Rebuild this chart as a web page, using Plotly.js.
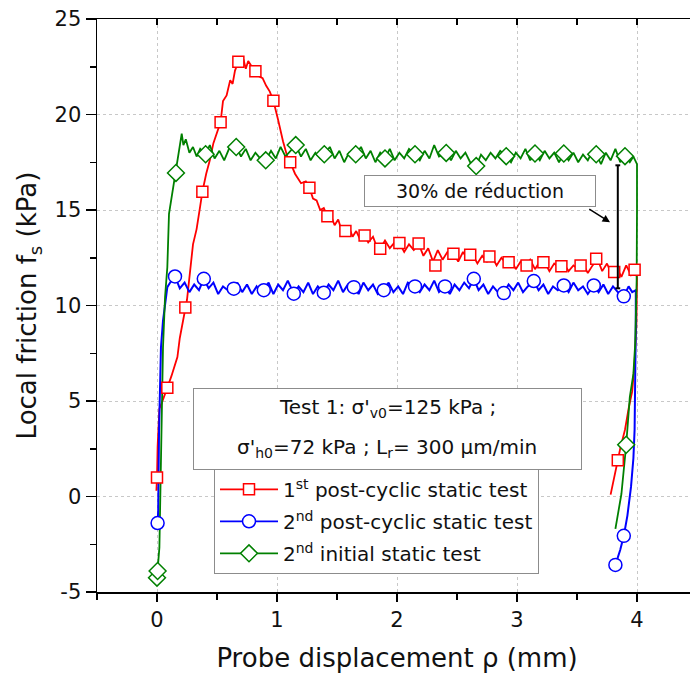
<!DOCTYPE html>
<html>
<head>
<meta charset="utf-8">
<script src="https://cdn.plot.ly/plotly-3.0.1.min.js"></script>
<style>html,body{margin:0;padding:0;overflow:hidden;background:#fff}</style>
</head>
<body>
<div id="chart"></div>
<script>
// ---------- data ----------
const seriesNames = [
  "1<sup>st</sup> post-cyclic static test",
  "2<sup>nd</sup> post-cyclic static test",
  "2<sup>nd</sup> initial static test"
];
const seriesColors = ["#ff0000", "#0000ff", "#008000"];
const seriesSymbols = ["square", "circle", "diamond"];

const xTickVals = [0, 1, 2, 3, 4];
const xTickText = ["0", "1", "2", "3", "4"];
const yTickVals = [-5, 0, 5, 10, 15, 20, 25];
const yTickText = ["-5", "0", "5", "10", "15", "20", "25"];

// 1st post-cyclic static test : line [x, y]
const redLine = [
  [-0.005,0.3],[0.0,1.0],[0.005,2.6],[0.01,3.6],[0.02,4.6],[0.04,4.9],[0.06,5.3],[0.086,5.7],
  [0.12,6.3],[0.15,6.9],[0.17,7.3],[0.19,8.3],[0.236,9.9],[0.25,10.3],[0.30,13.2],[0.33,14.0],
  [0.36,15.2],[0.378,15.95],[0.41,16.9],[0.44,17.6],[0.47,18.5],[0.50,19.0],[0.53,19.6],[0.55,20.7],
  [0.58,21.0],[0.61,21.8],[0.63,21.6],[0.65,22.3],[0.678,22.76],[0.70,22.5],[0.72,22.9],[0.74,22.4],
  [0.76,22.8],[0.78,22.6],[0.80,22.5],[0.82,22.27],[0.85,22.0],[0.88,21.9],[0.91,21.5],[0.94,21.2],
  [0.955,20.9],[0.97,20.72],[1.01,19.7],[1.05,18.6],[1.09,17.7],[1.11,17.5],[1.15,16.9],[1.20,16.4],
  [1.24,16.5],[1.27,16.17],[1.30,15.6],[1.33,15.5],[1.36,15.0],[1.39,15.1],[1.42,14.67],[1.45,14.7],
  [1.48,14.2],[1.51,14.5],[1.54,13.9],[1.57,13.9],[1.60,14.1],[1.63,13.6],[1.66,13.9],[1.69,13.5],
  [1.73,13.67],[1.76,13.3],[1.80,13.6],[1.83,13.1],[1.86,12.97],[1.90,13.4],[1.94,13.0],[1.98,13.3],
  [2.02,13.27],[2.06,12.8],[2.10,13.2],[2.14,12.9],[2.18,13.24],[2.22,12.6],[2.26,13.0],[2.30,12.3],
  [2.34,12.9],[2.38,12.4],[2.42,12.8],[2.47,12.71],[2.51,12.3],[2.55,12.8],[2.59,12.4],[2.63,12.66],
  [2.67,12.2],[2.71,12.6],[2.75,12.3],[2.79,12.57],[2.83,12.1],[2.87,12.5],[2.91,12.2],[2.95,12.4],
  [2.99,11.9],[3.03,12.3],[3.07,12.1],[3.11,12.4],[3.15,11.9],[3.19,12.3],[3.23,12.27],[3.27,11.8],
  [3.31,12.2],[3.35,12.0],[3.39,12.2],[3.43,11.8],[3.47,12.1],[3.51,11.9],[3.55,12.2],[3.59,11.7],
  [3.63,12.1],[3.67,12.45],[3.71,11.8],[3.75,12.2],[3.79,11.6],[3.83,12.0],[3.87,11.5],[3.91,12.1],
  [3.95,11.6],[3.98,11.87],[4.00,11.5],[3.995,9.0],[3.98,7.0],[3.96,5.5],[3.93,4.6],[3.90,3.5],
  [3.86,2.5],[3.84,1.9],[3.81,1.0],[3.78,0.1]
];
const redMarks = [
  [0.0,1.0],[0.086,5.7],[0.236,9.9],[0.378,15.95],[0.53,19.6],[0.678,22.76],[0.82,22.27],[0.97,20.72],
  [1.11,17.5],[1.27,16.17],[1.42,14.67],[1.57,13.9],[1.73,13.67],[1.86,12.97],[2.02,13.27],[2.18,13.24],
  [2.32,12.1],[2.47,12.71],[2.61,12.66],[2.77,12.57],[2.93,12.27],[3.08,12.1],[3.22,12.27],[3.37,12.05],
  [3.53,12.1],[3.66,12.45],[3.81,11.75],[3.98,11.87],[3.84,1.9]
];

// 2nd post-cyclic static test
const blueLine = [
  [0.005,-1.39],[0.01,-0.75],[0.017,3.45],[0.025,6.07],[0.033,7.8],[0.05,9.2],[0.075,10.44],[0.086,10.96],
  [0.11,11.2],[0.15,11.52],[0.19,10.9],[0.23,11.2],[0.27,10.7],[0.31,11.1],[0.35,10.8],[0.39,11.4],
  [0.43,10.9],[0.47,11.2],[0.51,10.6],[0.55,11.0],[0.59,10.8],[0.64,10.88],[0.67,11.2],[0.71,10.7],
  [0.75,11.1],[0.79,10.6],[0.83,11.0],[0.86,10.7],[0.89,10.8],[0.93,11.2],[0.97,10.6],[1.01,11.1],
  [1.05,10.8],[1.09,11.3],[1.14,10.62],[1.18,11.0],[1.22,10.7],[1.26,11.2],[1.30,10.6],[1.34,11.0],
  [1.39,10.67],[1.43,11.1],[1.47,10.8],[1.51,11.3],[1.55,10.7],[1.59,11.1],[1.64,10.96],[1.68,10.6],
  [1.72,11.2],[1.76,10.8],[1.80,11.1],[1.84,10.6],[1.89,10.8],[1.93,11.2],[1.97,10.7],[2.01,11.0],
  [2.05,10.6],[2.09,11.2],[2.15,11.0],[2.19,10.7],[2.23,11.1],[2.27,10.8],[2.31,11.3],[2.35,10.7],
  [2.40,11.0],[2.44,10.6],[2.48,11.1],[2.52,10.8],[2.56,11.2],[2.60,10.9],[2.64,11.4],[2.68,10.8],
  [2.72,11.1],[2.76,10.6],[2.80,11.0],[2.84,10.7],[2.89,10.65],[2.93,11.1],[2.97,10.8],[3.01,11.2],
  [3.05,10.7],[3.09,11.0],[3.14,11.28],[3.18,10.8],[3.22,11.1],[3.26,10.6],[3.30,11.0],[3.34,10.8],
  [3.39,11.05],[3.43,10.7],[3.47,11.2],[3.51,10.8],[3.55,11.0],[3.59,10.6],[3.64,11.05],[3.68,10.7],
  [3.72,11.1],[3.76,10.6],[3.80,11.0],[3.84,10.7],[3.89,10.48],[3.93,11.0],[3.96,10.7],[3.99,10.8],
  [3.99,9.0],[3.985,6.0],[3.98,3.5],[3.97,2.0],[3.95,0.5],[3.92,-1.0],[3.89,-2.06],[3.86,-2.8],[3.82,-3.58]
];
const blueMarks = [
  [0.005,-1.39],[0.15,11.52],[0.39,11.4],[0.64,10.88],[0.89,10.8],[1.14,10.62],[1.39,10.67],[1.64,10.96],
  [1.89,10.8],[2.15,11.0],[2.40,11.0],[2.64,11.4],[2.89,10.65],[3.14,11.28],[3.39,11.05],[3.64,11.05],
  [3.89,10.48],[3.89,-2.06],[3.82,-3.58]
];

// 2nd initial static test
const greenLine = [
  [0.0,-4.25],[0.005,-3.9],[0.02,-2.67],[0.03,0.83],[0.04,4.33],[0.05,7.8],[0.067,10.44],[0.086,12.0],
  [0.10,14.8],[0.13,16.0],[0.158,16.94],[0.18,17.8],[0.206,19.0],[0.22,18.4],[0.24,18.7],[0.27,18.0],
  [0.30,18.3],[0.33,17.8],[0.36,18.2],[0.405,17.92],[0.44,18.4],[0.48,17.7],[0.52,18.1],[0.56,17.6],
  [0.60,18.2],[0.66,18.3],[0.70,17.8],[0.74,18.2],[0.78,17.6],[0.82,18.0],[0.86,17.7],[0.906,17.6],
  [0.95,18.1],[0.99,17.7],[1.03,18.3],[1.07,17.8],[1.11,18.1],[1.156,18.4],[1.20,17.8],[1.24,18.2],
  [1.28,17.6],[1.32,18.0],[1.36,17.7],[1.394,17.92],[1.44,18.3],[1.48,17.7],[1.52,18.1],[1.56,17.5],
  [1.60,18.0],[1.656,17.92],[1.70,18.3],[1.74,17.7],[1.78,18.1],[1.82,17.5],[1.86,18.0],[1.90,17.7],
  [1.94,18.2],[1.98,17.6],[2.02,18.0],[2.06,17.7],[2.10,18.2],[2.15,17.92],[2.19,17.6],[2.23,18.1],
  [2.27,17.7],[2.31,18.4],[2.35,17.8],[2.41,17.99],[2.45,17.6],[2.49,18.1],[2.53,17.7],[2.57,18.0],
  [2.61,17.5],[2.66,17.3],[2.70,17.9],[2.74,17.6],[2.78,18.0],[2.82,17.7],[2.86,18.1],[2.91,17.82],
  [2.95,17.5],[2.99,18.0],[3.03,17.7],[3.07,18.2],[3.11,17.6],[3.15,17.96],[3.19,17.6],[3.23,18.1],
  [3.27,17.7],[3.31,18.0],[3.35,17.5],[3.39,17.96],[3.43,17.6],[3.47,18.0],[3.51,17.5],[3.55,17.9],
  [3.59,17.6],[3.63,18.1],[3.66,17.92],[3.70,17.4],[3.74,18.0],[3.78,17.6],[3.82,18.2],[3.86,17.5],
  [3.90,17.82],[3.94,17.5],[3.97,17.8],[4.00,17.4],[4.00,15.0],[3.997,11.3],[3.985,8.0],[3.97,6.42],
  [3.94,5.2],[3.91,2.71],[3.87,0.13],[3.82,-1.7]
];
const greenMarks = [
  [0.0,-4.25],[0.005,-3.9],[0.158,16.94],[0.405,17.92],[0.66,18.3],[0.906,17.6],[1.156,18.4],[1.394,17.92],
  [1.656,17.92],[1.90,17.7],[2.15,17.92],[2.41,17.99],[2.66,17.3],[2.91,17.82],[3.15,17.96],[3.39,17.96],
  [3.66,17.92],[3.90,17.82],[3.91,2.71]
];

const markerSizes = [11, 13, 13];
const lineWidths = [1.8, 2, 1.8];

// annotation values
const reductionText = "30% de réduction";
const reductionX = 3.84, reductionTop = 17.34, reductionBottom = 10.9;
const testLines = ["Test 1: σ'<sub>v0</sub>=125 kPa ;", "σ'<sub>h0</sub>=72 kPa ; L<sub>r</sub>= 300 μm/min"];

// ---------- build ----------
const lines = [redLine, blueLine, greenLine];
const marks = [redMarks, blueMarks, greenMarks];
const traces = [];
lines.forEach((ln, i) => {
  traces.push({type:'scatter', mode:'lines', x: ln.map(p=>p[0]), y: ln.map(p=>p[1]),
    line:{color: seriesColors[i], width: lineWidths[i]}, showlegend:false, hoverinfo:'skip'});
});
marks.forEach((mk, i) => {
  traces.push({type:'scatter', mode:'markers', x: mk.map(p=>p[0]), y: mk.map(p=>p[1]),
    marker:{symbol: seriesSymbols[i], size: markerSizes[i], color:'#ffffff',
      line:{color: seriesColors[i], width:1.5}}, showlegend:false, hoverinfo:'skip'});
});
seriesNames.forEach((nm, i) => {
  traces.push({type:'scatter', mode:'lines+markers', x:[null], y:[null], name: nm,
    legendgroup: 'g' + i,
    line:{color: seriesColors[i], width:1.8},
    marker:{symbol: seriesSymbols[i], size: markerSizes[i], color:'#ffffff',
      line:{color: seriesColors[i], width:1.5}}});
});
traces.push({type:'scatter', x:[null], y:[null], xaxis:'x2', yaxis:'y2', showlegend:false, hoverinfo:'skip'});

const FONT = 'DejaVu Sans, Liberation Sans, Arial, sans-serif';
const axisCommon = {showline:true, linecolor:'#000', linewidth:1.5, zeroline:false,
  tickcolor:'#000', tickwidth:1.5, automargin:false, fixedrange:true};

const layout = {
  width: 698, height: 690,
  margin: {l:97, r:1, t:19, b:98},
  paper_bgcolor:'#fff', plot_bgcolor:'#fff',
  font: {family: FONT, color:'#111', size:20},
  showlegend: true,
  legend: {x:0.195, y:0.215, xanchor:'left', yanchor:'top', bgcolor:'#fff',
    bordercolor:'#8c8c8c', borderwidth:1, font:{size:20, family: FONT},
    itemwidth: 58, tracegroupgap: 3},
  xaxis: Object.assign({}, axisCommon, {
    range:[-0.5,4.5], tickmode:'array', tickvals:xTickVals, ticktext:xTickText, ticks:'outside', ticklen:8,
    showgrid:true, gridcolor:'#c8c8c8', griddash:'dot', gridwidth:1,
    tickfont:{size:21}, title:{text:'Probe displacement ρ (mm)', font:{size:26}, standoff:18},
    minor:{tickmode:'linear', tick0:0, dtick:0.5, ticks:'outside', ticklen:6, tickwidth:1.5, tickcolor:'#000', showgrid:false}
  }),
  yaxis: Object.assign({}, axisCommon, {
    range:[-5,25], tickmode:'array', tickvals:yTickVals, ticktext:yTickText, ticks:'outside', ticklen:10,
    showgrid:true, gridcolor:'#c8c8c8', griddash:'dot', gridwidth:1,
    tickfont:{size:21}, title:{text:'Local friction f<sub>s</sub> (kPa)', font:{size:26}, standoff:10},
    minor:{tickmode:'linear', tick0:0, dtick:2.5, ticks:'outside', ticklen:6, tickwidth:1.5, tickcolor:'#000', showgrid:false}
  }),
  xaxis2: Object.assign({}, axisCommon, {
    overlaying:'x', side:'top', anchor:'y', range:[-0.5,4.5], tickmode:'linear', tick0:0, dtick:1,
    ticks:'inside', ticklen:6, showticklabels:false, showgrid:false,
    minor:{tick0:0, dtick:0.5, ticks:'inside', ticklen:6, tickwidth:1.5, tickcolor:'#000', showgrid:false}
  }),
  yaxis2: Object.assign({}, axisCommon, {
    overlaying:'y', side:'right', anchor:'x', range:[-5,25], tickmode:'linear', tick0:0, dtick:5,
    ticks:'inside', ticklen:6, showticklabels:false, showgrid:false,
    minor:{tick0:0, dtick:2.5, ticks:'inside', ticklen:6, tickwidth:1.5, tickcolor:'#000', showgrid:false}
  }),
  shapes: [
    {type:'line', xref:'x', yref:'y', x0:reductionX, x1:reductionX, y0:reductionBottom, y1:reductionTop, line:{color:'#000', width:2}},
    {type:'line', xref:'x', yref:'y', x0:reductionX-0.02, x1:reductionX+0.02, y0:reductionTop, y1:reductionTop, line:{color:'#000', width:2}},
    {type:'line', xref:'x', yref:'y', x0:reductionX-0.02, x1:reductionX+0.02, y0:reductionBottom, y1:reductionBottom, line:{color:'#000', width:2}}
  ],
  annotations: [
    {xref:'x', yref:'y', x:2.69, y:15.98, text: reductionText, showarrow:false,
      font:{size:19, family:FONT, color:'#111'}, bgcolor:'#fff', bordercolor:'#8c8c8c', borderwidth:1,
      borderpad:2, width:226, height:26},
    {xref:'x', yref:'y', x:3.775, y:14.36, ax:3.59, ay:15.09, axref:'x', ayref:'y', text:'',
      showarrow:true, arrowhead:2, arrowsize:1, arrowwidth:1.5, arrowcolor:'#000'},
    {xref:'x', yref:'y', x:1.92, y:3.55, text:' ', showarrow:false, bgcolor:'#fff',
      bordercolor:'#8c8c8c', borderwidth:1, borderpad:2, width:383, height:76},
    {xref:'x', yref:'y', x:1.92, y:4.62, text: testLines[0], showarrow:false,
      font:{size:20, family:FONT, color:'#111'}},
    {xref:'x', yref:'y', x:1.92, y:2.55, text: testLines[1], showarrow:false,
      font:{size:20, family:FONT, color:'#111'}}
  ]
};

Plotly.newPlot('chart', traces, layout, {displayModeBar:false, staticPlot:true});
</script>
</body>
</html>
